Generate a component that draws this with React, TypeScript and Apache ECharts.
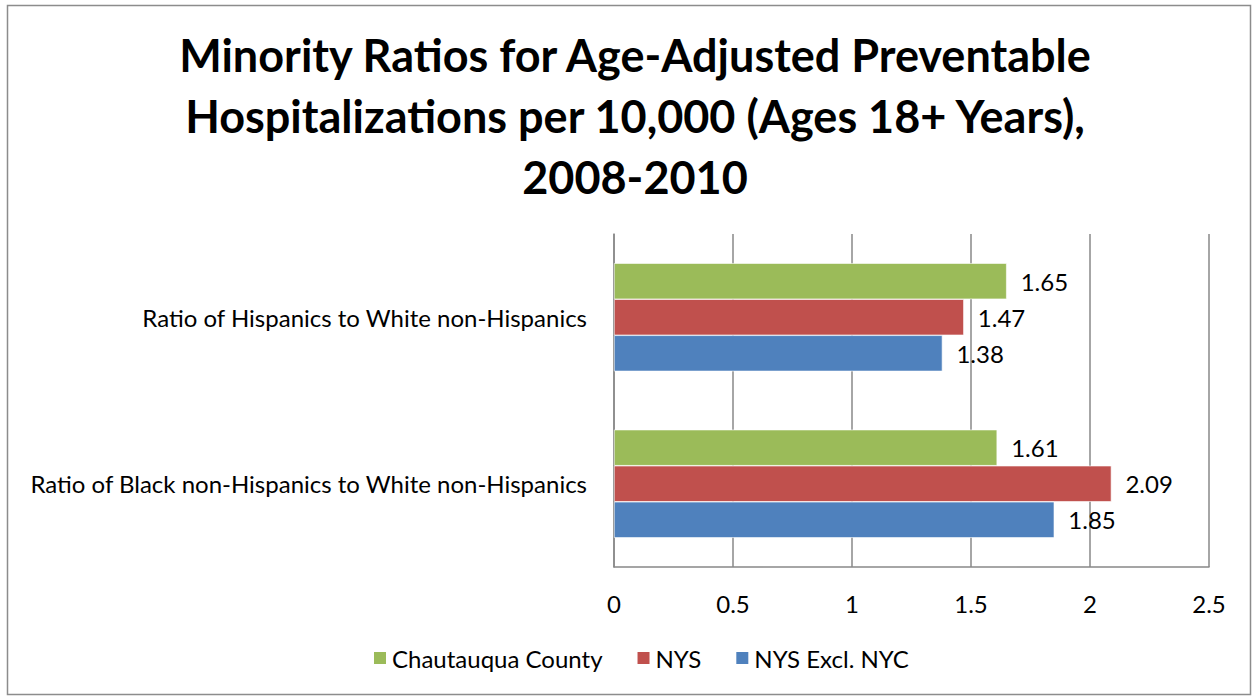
import React, { useEffect, useRef } from "react";
import * as echarts from "echarts";

const categories = [
  "Ratio of Black non-Hispanics to White non-Hispanics",
  "Ratio of Hispanics to White non-Hispanics",
];
const seriesNames = ["Chautauqua County", "NYS", "NYS Excl. NYC"];
const chautauqua = [1.61, 1.65];
const nys = [2.09, 1.47];
const nysExclNyc = [1.85, 1.38];
const xTicks = [0, 0.5, 1, 1.5, 2, 2.5];

const FONT = "Lato";

export default function App() {
  const ref = useRef<HTMLDivElement>(null);
  useEffect(() => {
    document.body.style.margin = "0";
    const chart = echarts.init(ref.current!, null, { renderer: "svg" });
    const labelStyle = {
      show: true,
      position: "right" as const,
      distance: 14,
      color: "#000",
      fontSize: 24,
      fontFamily: FONT,
      formatter: (p: any) => p.value.toFixed(2),
    };
    const mk = (name: string, data: number[], color: string) => ({
      name,
      type: "bar",
      data,
      barGap: "0%",
      barCategoryGap: "35%",
      itemStyle: { color, borderColor: "#fff", borderWidth: 0.6 },
      label: labelStyle,
    });
    chart.setOption({
      animation: false,
      textStyle: { fontFamily: FONT },
      title: {
        text: "Minority Ratios for Age-Adjusted Preventable\nHospitalizations per 10,000 (Ages 18+ Years),\n2008-2010",
        left: 630,
        textAlign: "center",
        top: 19,
        textStyle: {
          fontSize: 45,
          fontWeight: "bold",
          lineHeight: 61,
          fontFamily: FONT,
          color: "#000",
        },
      },
      graphic: [
        {
          type: "rect",
          shape: { x: 7.5, y: 5.5, width: 1243, height: 689 },
          style: { fill: "none", stroke: "#8c8c8c", lineWidth: 1.5 },
          silent: true,
        },
      ],
      legend: {
        data: seriesNames,
        left: 367,
        top: 641,
        itemWidth: 14,
        itemHeight: 14,
        itemGap: 33,
        icon: "rect",
        textStyle: { fontSize: 24, fontFamily: FONT, color: "#000" },
      },
      grid: { left: 614, right: 43, top: 234, bottom: 129 },
      xAxis: {
        type: "value",
        min: xTicks[0],
        max: xTicks[xTicks.length - 1],
        interval: 0.5,
        axisLine: { show: true, lineStyle: { color: "#888", width: 1.5 } },
        axisTick: { show: false },
        splitLine: { show: true, lineStyle: { color: "#888", width: 1.5 } },
        axisLabel: {
          color: "#000",
          fontSize: 24,
          fontFamily: FONT,
          margin: 24,
          formatter: (v: number) => String(v),
        },
      },
      yAxis: {
        type: "category",
        data: categories,
        axisLine: { show: true, lineStyle: { color: "#888", width: 1.5 } },
        axisTick: { show: false },
        axisLabel: { color: "#000", fontSize: 24, fontFamily: FONT, margin: 27 },
      },
      series: [
        mk(seriesNames[0], chautauqua, "#9BBB59"),
        mk(seriesNames[1], nys, "#C0504D"),
        mk(seriesNames[2], nysExclNyc, "#4F81BD"),
      ],
    });
    return () => chart.dispose();
  }, []);
  return <div ref={ref} style={{ width: 1252, height: 696 }} />;
}
